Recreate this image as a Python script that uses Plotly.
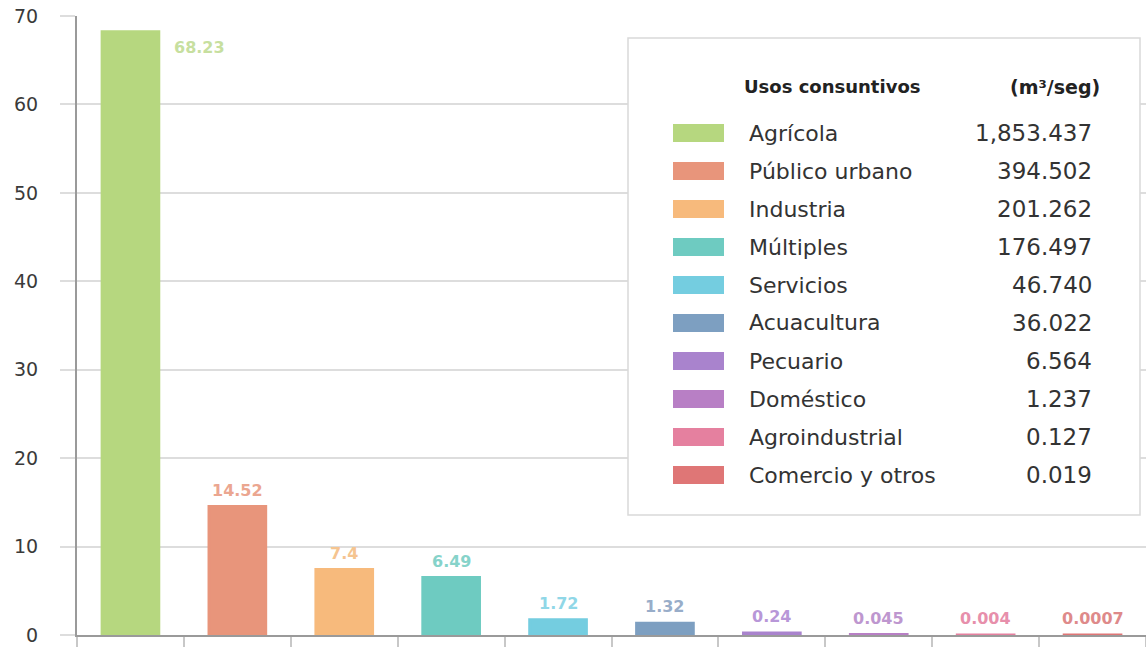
import plotly.graph_objects as go

# Share of consumptive water use by sector (%), and volumes in m³/s
categories = ["Agrícola", "Público urbano", "Industria", "Múltiples", "Servicios",
              "Acuacultura", "Pecuario", "Doméstico", "Agroindustrial", "Comercio y otros"]
percentages = [68.23, 14.52, 7.4, 6.49, 1.72, 1.32, 0.24, 0.045, 0.004, 0.0007]
volumes = [1853.437, 394.502, 201.262, 176.497, 46.740, 36.022, 6.564, 1.237, 0.127, 0.019]

bar_colors = ["#b6d77f", "#e8957b", "#f7ba7c", "#6ecbc1", "#74cde0",
              "#7d9fc1", "#a983cd", "#b87fc5", "#e5809f", "#df7676"]
label_colors = ["#c7df9f", "#eba690", "#f5c490", "#86d3ca", "#90d7e7",
                "#98adc9", "#b897d8", "#be97cf", "#e78fab", "#de8a8a"]
y_ticks = [0, 10, 20, 30, 40, 50, 60, 70]

W, H = 1146, 651
ML, MR, MT, MB = 77, 0, 16, 16
PW, PH = W - ML - MR, H - MT - MB


def px_x(x):
    return (x - ML) / PW


def px_y(y):
    return (H - MB - y) / PH


FONT = "DejaVu Sans"

fig = go.Figure()
fig.add_trace(go.Bar(
    x=categories,
    y=percentages,
    width=0.53,
    marker=dict(color=bar_colors, line=dict(color=bar_colors, width=3)),
    showlegend=False,
    hoverinfo="x+y",
))

annotations = []
for i, (cat, val) in enumerate(zip(categories, percentages)):
    if i == 0:
        annotations.append(dict(
            x=cat, y=val, xref="x", yref="y", text=f"<b>{val:g}</b>", showarrow=False,
            xanchor="left", yanchor="middle", xshift=42, yshift=-16,
            font=dict(family=FONT, size=16, color=label_colors[i]),
        ))
    else:
        annotations.append(dict(
            x=cat, y=val, xref="x", yref="y", text=f"<b>{val:g}</b>", showarrow=False,
            xanchor="center", yanchor="bottom", yshift=5,
            font=dict(family=FONT, size=16, color=label_colors[i]),
        ))

# Table-style legend box
shapes = [dict(type="rect", xref="paper", yref="paper",
               x0=px_x(628), x1=px_x(1140), y0=px_y(515), y1=px_y(38),
               fillcolor="white", line=dict(color="#d9d9d9", width=1.5), layer="above")]

annotations.append(dict(x=px_x(742), y=px_y(87), xref="paper", yref="paper",
                        text="<b>Usos consuntivos</b>", showarrow=False,
                        xanchor="left", yanchor="middle",
                        font=dict(family=FONT, size=18, color="#222222")))
annotations.append(dict(x=px_x(1102), y=px_y(87), xref="paper", yref="paper",
                        text="<b>(m³/seg)</b>", showarrow=False,
                        xanchor="right", yanchor="middle",
                        font=dict(family=FONT, size=19, color="#222222")))

for i, (cat, vol) in enumerate(zip(categories, volumes)):
    yc = 133 + 38 * i
    shapes.append(dict(type="rect", xref="paper", yref="paper",
                       x0=px_x(673), x1=px_x(724), y0=px_y(yc + 9), y1=px_y(yc - 9),
                       fillcolor=bar_colors[i], line=dict(width=0), layer="above"))
    annotations.append(dict(x=px_x(747), y=px_y(yc), xref="paper", yref="paper",
                            text=cat, showarrow=False, xanchor="left", yanchor="middle",
                            font=dict(family=FONT, size=22, color="#333333")))
    annotations.append(dict(x=px_x(1094), y=px_y(yc), xref="paper", yref="paper",
                            text=f"{vol:,.3f}", showarrow=False, xanchor="right", yanchor="middle",
                            font=dict(family=FONT, size=23, color="#333333")))

fig.update_layout(
    width=W, height=H,
    margin=dict(l=ML, r=MR, t=MT, b=MB),
    paper_bgcolor="white",
    plot_bgcolor="white",
    bargap=0.47,
    shapes=shapes,
    annotations=annotations,
    xaxis=dict(
        showticklabels=False,
        ticks="outside", tickson="boundaries", ticklen=10, tickwidth=1.5,
        tickcolor="#c8c8c8",
        showline=True, linecolor="#9a9a9a", linewidth=2,
        showgrid=False, fixedrange=True,
    ),
    yaxis=dict(
        range=[0, 70],
        tickvals=y_ticks,
        ticks="outside", ticklen=15, tickcolor="#dddddd", tickwidth=1.5,
        ticklabelstandoff=18,
        tickfont=dict(family=FONT, size=19, color="#3a3a3a"),
        showgrid=True, gridcolor="#dddddd", gridwidth=1.5,
        showline=True, linecolor="#9a9a9a", linewidth=2,
        zeroline=False, fixedrange=True,
    ),
)

fig.write_html("out.html")
